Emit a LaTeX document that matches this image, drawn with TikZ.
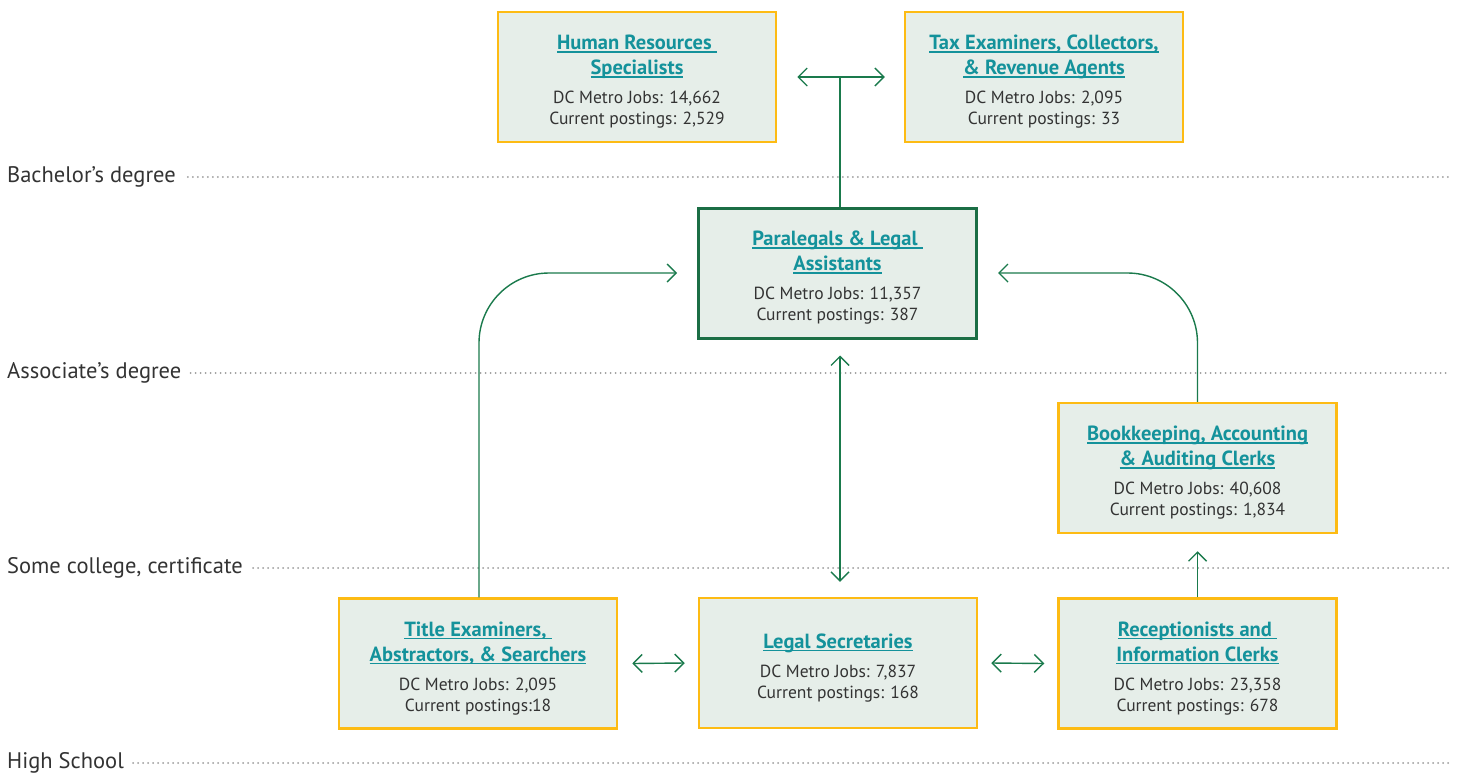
\documentclass[tikz,border=0pt]{standalone}
\usepackage{fontspec}
\setmainfont{PT Sans}
\usetikzlibrary{arrows.meta}
\definecolor{boxfill}{HTML}{E6EEE9}
\definecolor{gold}{HTML}{FDBB14}
\definecolor{dkgreen}{HTML}{1B6E45}
\definecolor{arrowgreen}{HTML}{1A7A4C}
\definecolor{tealt}{HTML}{14929B}
\definecolor{bodytext}{HTML}{333333}
\definecolor{dotgray}{HTML}{9A9A9A}
\newcommand\jobul[1]{\setbox0\hbox{#1}\rlap{\rule[-3pt]{\wd0}{1.2pt}}\box0}
\newcommand\jobtitle[1]{{\fontsize{20.5}{21}\selectfont\bfseries\color{tealt}\jobul{#1}}}
\newcommand\firstline[1]{\rule{0pt}{24pt}\jobtitle{#1}}
\tikzset{
  jobbox/.style={draw=gold, line width=2.5pt, fill=boxfill, minimum width=278pt, minimum height=130pt,
    align=center, text=bodytext, font=\fontsize{17.5}{21}\selectfont, inner sep=0pt},
  keybox/.style={jobbox, draw=dkgreen, line width=3pt},
  conn/.style={draw=arrowgreen, line width=1.4pt},
  both/.style={conn, arrows={Straight Barb[length=9pt,width=18pt]-Straight Barb[length=9pt,width=18pt]}},
  one/.style={conn, arrows={-Straight Barb[length=9pt,width=18pt]}},
  levlab/.style={anchor=west, font=\fontsize{22.5}{24}\selectfont, text=bodytext, inner sep=0pt},
  dotline/.style={draw=dotgray, line width=2pt, dash pattern=on 0pt off 5pt, line cap=round}
}
\begin{document}
\begin{tikzpicture}[x=1pt, y=-1pt]
\useasboundingbox (0,0) rectangle (1460,777);

% level labels and dotted lines
\node[levlab] (bach) at (7,177) {Bachelor’s degree};
\node[levlab] (assoc) at (7,373) {Associate’s degree};
\node[levlab] (some) at (7,568) {Some college, certificate};
\node[levlab] (high) at (7,763) {High School};
\coordinate (bachend) at (1450,177);
\coordinate (assocend) at (1450,373);
\coordinate (someend) at (1450,568);
\coordinate (highend) at (1450,763);
\draw[dotline] ([xshift=12pt]bach.east |- bachend) -- (bachend);
\draw[dotline] ([xshift=9pt]assoc.east |- assocend) -- (assocend);
\draw[dotline] ([xshift=10pt]some.east |- someend) -- (someend);
\draw[dotline] ([xshift=9pt]high.east |- highend) -- (highend);

% boxes
\node[jobbox] (hr) at (637,77) {\firstline{Human Resources\ }\\[4pt]\jobtitle{Specialists}\\[8pt]DC Metro Jobs: 14,662\\Current postings: 2,529};
\node[jobbox] (tax) at (1044,77) {\firstline{Tax Examiners, Collectors,}\\[4pt]\jobtitle{\& Revenue Agents}\\[8pt]DC Metro Jobs: 2,095\\Current postings: 33};
\node[keybox] (para) at (837.5,273) {\firstline{Paralegals \& Legal\ }\\[4pt]\jobtitle{Assistants}\\[8pt]DC Metro Jobs: 11,357\\Current postings: 387};
\node[jobbox] (book) at (1197.5,468) {\firstline{Bookkeeping, Accounting}\\[4pt]\jobtitle{\& Auditing Clerks}\\[8pt]DC Metro Jobs: 40,608\\Current postings: 1,834};
\node[jobbox] (title) at (478,663.5) {\firstline{Title Examiners,\ }\\[4pt]\jobtitle{Abstractors, \& Searchers}\\[8pt]DC Metro Jobs: 2,095\\Current postings:18};
\node[jobbox] (legal) at (838,663) {\firstline{Legal Secretaries}\\[8pt]DC Metro Jobs: 7,837\\Current postings: 168};
\node[jobbox] (recep) at (1197.5,663.5) {\firstline{Receptionists and\ }\\[4pt]\jobtitle{Information Clerks}\\[8pt]DC Metro Jobs: 23,358\\Current postings: 678};

% connectors
\draw[both] ([xshift=20pt]hr.east) -- coordinate[pos=0.49] (top) ([xshift=-19pt]tax.west);
\draw[conn] (para.north -| top) -- (top);
\draw[both] ([xshift=2.5pt,yshift=-16pt]para.south) -- ([xshift=2pt,yshift=15pt]legal.north);
\draw[both] ([xshift=14pt]title.east) -- ([xshift=-13pt]legal.west);
\draw[both] ([xshift=13pt]legal.east) -- ([xshift=-13pt]recep.west);
\draw[one] (recep.north) -- ([yshift=-17pt]book.south);
\draw[one, rounded corners=70pt] ([xshift=1pt]title.north) |- ([xshift=-20pt]para.west);
\draw[one, rounded corners=70pt] (book.north) |- ([xshift=20pt]para.east);
\end{tikzpicture}
\end{document}
